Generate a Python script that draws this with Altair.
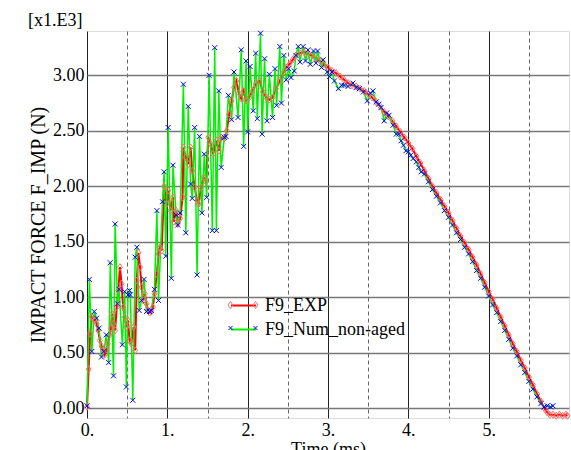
import altair as alt
import pandas as pd

# ---- data (values in x1.E3 N) ----
exp_t = [0.00, 0.02, 0.04, 0.06, 0.08, 0.10, 0.12, 0.14, 0.16, 0.18, 0.20, 0.22, 0.24, 0.26, 0.28, 0.30,
         0.31, 0.33, 0.35, 0.37, 0.39, 0.41, 0.43, 0.45, 0.47, 0.49, 0.51, 0.53, 0.55, 0.58, 0.60, 0.62,
         0.64, 0.66, 0.68, 0.70, 0.72, 0.74, 0.76, 0.78, 0.80, 0.82, 0.84, 0.87, 0.89, 0.91, 0.93, 0.96,
         0.99, 1.01, 1.04, 1.07, 1.08, 1.11, 1.13, 1.16, 1.19, 1.20, 1.23, 1.26, 1.29, 1.31, 1.34, 1.37,
         1.39, 1.42, 1.45, 1.48, 1.51, 1.54, 1.57, 1.61, 1.64, 1.67, 1.71, 1.74, 1.77, 1.80, 1.83, 1.86,
         1.89, 1.92, 1.95, 1.98, 2.02, 2.06, 2.10, 2.15, 2.19, 2.23, 2.27, 2.31, 2.35, 2.40, 2.44, 2.48,
         2.52, 2.56, 2.60, 2.65, 2.70, 2.75, 2.80, 2.85, 2.90, 2.95, 3.00, 3.05, 3.10, 3.15, 3.20, 3.25,
         3.30, 3.35, 3.40, 3.45, 3.50, 3.55, 3.60, 3.65, 3.70, 3.75, 3.80, 3.85, 3.90, 3.95, 4.00, 4.05,
         4.10, 4.15, 4.20, 4.25, 4.30, 4.35, 4.40, 4.45, 4.50, 4.55, 4.60, 4.65, 4.70, 4.75, 4.80, 4.85,
         4.90, 4.95, 5.00, 5.05, 5.10, 5.15, 5.20, 5.25, 5.30, 5.35, 5.40, 5.45, 5.50, 5.55, 5.60, 5.65,
         5.70, 5.73, 5.76, 5.80, 5.84, 5.88, 5.92, 5.96, 5.98]
exp_f = [0.01, 0.35, 0.67, 0.82, 0.80, 0.79, 0.76, 0.70, 0.61, 0.56, 0.52, 0.48, 0.52, 0.58, 0.66, 0.72,
         0.85, 0.76, 0.70, 0.91, 1.06, 1.27, 1.12, 0.91, 0.82, 0.73, 0.79, 0.61, 0.58, 0.73, 0.52, 1.15,
         1.40, 1.27, 1.09, 0.97, 1.03, 0.94, 0.88, 0.86, 0.87, 0.91, 1.03, 1.21, 1.39, 1.45, 1.42, 2.00,
         1.84, 1.96, 1.78, 1.90, 1.68, 1.78, 1.66, 1.71, 1.90, 2.35, 2.26, 2.20, 2.35, 2.14, 1.99, 1.87,
         1.84, 1.99, 2.08, 2.04, 2.44, 2.38, 2.29, 2.41, 2.32, 2.44, 2.43, 2.50, 2.65, 2.77, 2.89, 2.95,
         2.84, 2.79, 2.86, 2.77, 2.80, 2.86, 2.92, 2.95, 2.85, 2.80, 2.78, 2.80, 2.88, 2.95, 3.02, 3.07,
         3.10, 3.14, 3.18, 3.20, 3.21, 3.19, 3.18, 3.15, 3.13, 3.10, 3.07, 3.04, 3.02, 2.99, 2.96, 2.93,
         2.91, 2.90, 2.88, 2.86, 2.83, 2.80, 2.76, 2.72, 2.67, 2.63, 2.59, 2.54, 2.49, 2.44, 2.39, 2.34,
         2.27, 2.21, 2.14, 2.07, 2.00, 1.94, 1.88, 1.82, 1.76, 1.69, 1.62, 1.55, 1.49, 1.43, 1.36, 1.29,
         1.21, 1.13, 1.05, 0.98, 0.90, 0.82, 0.74, 0.66, 0.58, 0.51, 0.43, 0.36, 0.28, 0.21, 0.13, 0.06,
         -0.01, -0.04, -0.06, -0.06, -0.07, -0.06, -0.07, -0.06, -0.07]

num_t = [0.00, 0.03, 0.06, 0.09, 0.12, 0.15, 0.18, 0.21, 0.24, 0.27, 0.29, 0.33, 0.35, 0.38, 0.40, 0.44,
         0.47, 0.49, 0.51, 0.53, 0.54, 0.57, 0.60, 0.62, 0.65, 0.68, 0.71, 0.74, 0.78, 0.80, 0.84, 0.87,
         0.89, 0.94, 0.96, 0.98, 1.01, 1.05, 1.07, 1.11, 1.13, 1.16, 1.20, 1.23, 1.26, 1.29, 1.31, 1.34,
         1.37, 1.40, 1.43, 1.46, 1.49, 1.52, 1.56, 1.59, 1.61, 1.64, 1.67, 1.71, 1.73, 1.76, 1.80, 1.83,
         1.88, 1.92, 1.95, 1.98, 2.00, 2.03, 2.07, 2.10, 2.12, 2.16, 2.18, 2.21, 2.24, 2.27, 2.31, 2.34,
         2.36, 2.40, 2.42, 2.45, 2.48, 2.51, 2.54, 2.58, 2.60, 2.63, 2.65, 2.69, 2.72, 2.75, 2.78, 2.82,
         2.85, 2.87, 2.92, 2.94, 2.99, 3.02, 3.05, 3.08, 3.13, 3.17, 3.20, 3.25, 3.31, 3.35, 3.39, 3.44,
         3.49, 3.53, 3.56, 3.60, 3.63, 3.66, 3.70, 3.73, 3.76, 3.81, 3.85, 3.88, 3.91, 3.94, 3.97, 4.00,
         4.03, 4.06, 4.10, 4.13, 4.16, 4.20, 4.25, 4.30, 4.35, 4.40, 4.45, 4.50, 4.55, 4.60, 4.65, 4.70,
         4.75, 4.80, 4.85, 4.90, 4.95, 5.00, 5.05, 5.10, 5.15, 5.20, 5.25, 5.30, 5.35, 5.40, 5.45, 5.50,
         5.55, 5.60, 5.65, 5.69, 5.73, 5.77, 5.80]
num_f = [0.02, 1.16, 0.51, 0.87, 0.81, 0.72, 0.46, 0.51, 0.66, 0.41, 1.31, 0.29, 1.66, 0.94, 1.07, 0.57,
         1.05, 0.19, 1.02, 1.06, 1.02, 0.07, 1.36, 1.45, 0.88, 0.97, 1.16, 0.87, 0.87, 0.88, 1.07, 1.78,
         0.97, 1.86, 2.13, 1.37, 2.53, 1.17, 2.19, 1.74, 1.65, 1.76, 2.92, 1.58, 2.72, 2.02, 1.89, 2.53,
         1.20, 2.45, 1.76, 2.29, 1.90, 3.00, 1.60, 3.25, 1.60, 2.86, 2.17, 2.44, 2.45, 2.82, 2.60, 3.03,
         2.62, 3.23, 2.36, 3.13, 2.49, 3.08, 2.68, 3.20, 2.61, 3.38, 2.47, 3.15, 2.59, 3.01, 2.62, 3.06,
         2.73, 3.26, 2.75, 3.18, 2.96, 3.06, 2.98, 3.04, 3.18, 3.26, 3.12, 3.26, 3.13, 3.23, 3.10, 3.22,
         3.11, 3.22, 3.07, 3.14, 3.03, 2.99, 3.03, 2.95, 2.88, 2.91, 2.91, 2.90, 2.93, 2.89, 2.88, 2.85,
         2.77, 2.84, 2.86, 2.76, 2.74, 2.71, 2.59, 2.66, 2.64, 2.55, 2.47, 2.47, 2.41, 2.37, 2.32, 2.31,
         2.28, 2.25, 2.22, 2.17, 2.13, 2.11, 2.04, 1.97, 1.91, 1.85, 1.78, 1.72, 1.65, 1.58, 1.52, 1.45,
         1.39, 1.32, 1.24, 1.17, 1.09, 1.01, 0.93, 0.86, 0.78, 0.70, 0.62, 0.54, 0.47, 0.39, 0.32, 0.24,
         0.17, 0.10, 0.04, 0.01, 0.02, 0.01, 0.02]

series_names = ["F9_EXP", "F9_Num_non-aged"]
x_tick_values = [0, 0.5, 1, 1.5, 2, 2.5, 3, 3.5, 4, 4.5, 5, 5.5]
y_tick_values = [0, 0.5, 1.0, 1.5, 2.0, 2.5, 3.0]

df_exp = pd.DataFrame({"t": exp_t, "f": exp_f, "series": series_names[0]})
df_num = pd.DataFrame({"t": num_t, "f": num_f, "series": series_names[1]})
df_lg = pd.DataFrame({"lg": ["m1", "m2"]})

FONT = "Liberation Serif"
RED = "#ff0000"
RED_MK = "#ff6a6a"
GREEN = "#00f000"
BLUE = "#0000ff"

DIAMOND = "M-0.7,0L0,-1L0.7,0L0,1Z"
XMARK = "M-1,-1L1,1M-1,1L1,-1"
LG_EXP = "M-1.2,0L-1,-0.28L-0.8,0L-1,0.28Z M0.8,0L1,-0.28L1.2,0L1,0.28Z"
LG_NUM = "M-1.16,-0.16L-0.84,0.16M-1.16,0.16L-0.84,-0.16M0.84,-0.16L1.16,0.16M0.84,0.16L1.16,-0.16"

x_scale = alt.Scale(domain=[0, 6.0], nice=False, zero=False)
y_scale = alt.Scale(domain=[-0.09, 3.4], nice=False, zero=False)

x_axis = alt.Axis(
    values=x_tick_values,
    labelExpr="datum.value % 1 === 0 ? datum.value + '.' : ''",
    grid=True,
    gridColor={"condition": {"test": "datum.value % 1 !== 0", "value": "#666666"}, "value": "#222222"},
    gridDash={"condition": {"test": "datum.value % 1 !== 0", "value": [4, 3]}, "value": []},
    gridWidth=1,
    ticks=False, domain=False,
    labelFont=FONT, labelFontSize=18, labelColor="black", labelPadding=3,
    labelAlign="center",
    title="Time (ms)", titleFont=FONT, titleFontSize=18, titleFontWeight="normal",
    titleColor="black", titlePadding=1,
)
y_axis = alt.Axis(
    values=y_tick_values, format=".2f",
    grid=True, gridColor="#777777", gridWidth=1.5,
    ticks=False, domain=False,
    labelFont=FONT, labelFontSize=18, labelColor="black", labelPadding=3,
    title="IMPACT FORCE F_IMP (N)", titleFont=FONT, titleFontSize=20,
    titleFontWeight="normal", titleColor="black", titlePadding=4,
)

X = alt.X("t:Q", scale=x_scale, axis=x_axis)
Y = alt.Y("f:Q", scale=y_scale, axis=y_axis)
Xn = alt.X("t:Q", scale=x_scale)
Yn = alt.Y("f:Q", scale=y_scale)

color_enc = alt.Color(
    "series:N",
    scale=alt.Scale(domain=series_names, range=[RED, GREEN]),
    legend=alt.Legend(
        title=None, orient="none", legendX=143, legendY=261, padding=0,
        symbolType="stroke", symbolSize=625, symbolStrokeWidth=2,
        labelFont=FONT, labelFontSize=18, labelColor="black", labelOffset=8,
        rowPadding=1,
    ),
)

exp_line = alt.Chart(df_exp).mark_line(strokeWidth=2).encode(x=X, y=Y, color=color_enc)
num_line = alt.Chart(df_num).mark_line(strokeWidth=1.5).encode(x=Xn, y=Yn, color=color_enc)
exp_pts = alt.Chart(df_exp).mark_point(
    shape=DIAMOND, size=49, filled=False, stroke=RED_MK, strokeWidth=1, opacity=1
).encode(x=Xn, y=Yn)
num_pts = alt.Chart(df_num).mark_point(
    shape=XMARK, size=25, filled=False, stroke=BLUE, strokeWidth=1, opacity=1
).encode(x=Xn, y=Yn)

# second legend: end markers drawn over the line symbols of the first one
lg_legend = alt.Legend(
    title=None, orient="none", legendX=143, legendY=261, padding=0,
    symbolSize=625, symbolStrokeWidth=1,
    labelFont=FONT, labelFontSize=18, labelExpr="''", labelOffset=8,
    rowPadding=1,
)
lg_layer = alt.Chart(df_lg).transform_filter("false").mark_point(
    filled=False, opacity=1, strokeWidth=1
).encode(
    shape=alt.Shape("lg:N", scale=alt.Scale(domain=["m1", "m2"], range=[LG_EXP, LG_NUM]), legend=lg_legend),
    stroke=alt.Stroke("lg:N", scale=alt.Scale(domain=["m1", "m2"], range=[RED_MK, BLUE]), legend=lg_legend),
)

chart = alt.layer(exp_line, num_line, exp_pts, num_pts, lg_layer).properties(
    width=482, height=387,
    title=alt.TitleParams(text="[x1.E3]", anchor="start", frame="group", dx=-59, dy=7,
                          font=FONT, fontSize=18, fontWeight="normal", color="black", offset=6),
    autosize=alt.AutoSizeParams(type="none"),
    padding={"left": 87, "top": 31, "right": 2, "bottom": 32},
).configure_view(
    stroke="#777777", strokeWidth=2
).configure(background="white")

chart.save("out.html", embed_options={"renderer": "svg", "actions": False})
